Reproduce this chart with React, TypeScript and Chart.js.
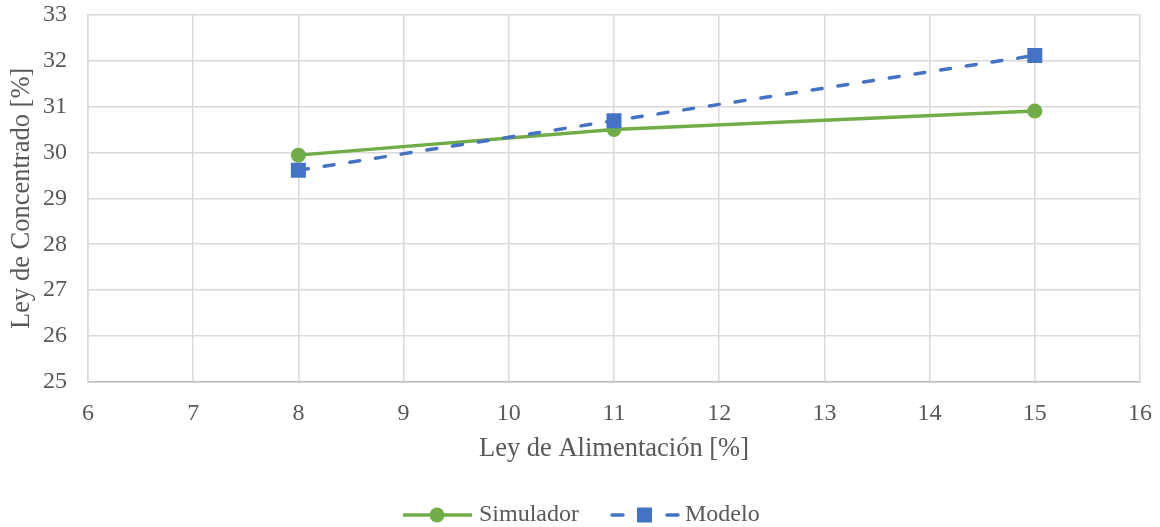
import React, { useEffect, useRef } from "react";
import { Chart, registerables } from "chart.js";

Chart.register(...registerables);

const xValues = [8, 11, 15];
const simulador = [29.94, 30.5, 30.9];
const modelo = [29.61, 30.69, 32.11];
const seriesNames = ["Simulador", "Modelo"];
const xTitle = "Ley de Alimentación [%]";
const yTitle = "Ley de Concentrado [%]";

const GREEN = "#70ad47";
const BLUE = "#4472c4";
const TEXT = "#595959";
const FONT = "'Liberation Serif', 'Times New Roman', serif";

const SHIFT = 16; // canvas is drawn 16px above the page top
const CW = 1169;
const CH = 527 + SHIFT;

const legendPlugin = {
  id: "customLegend",
  afterDraw(chart: any) {
    const ctx = chart.ctx;
    const y = 515 + SHIFT;
    ctx.save();
    ctx.font = `24px ${FONT}`;
    ctx.textBaseline = "middle";
    // Simulador
    ctx.strokeStyle = GREEN;
    ctx.lineWidth = 3.5;
    ctx.setLineDash([]);
    ctx.beginPath();
    ctx.moveTo(403, y);
    ctx.lineTo(472, y);
    ctx.stroke();
    ctx.fillStyle = GREEN;
    ctx.beginPath();
    ctx.arc(437, y, 7.5, 0, Math.PI * 2);
    ctx.fill();
    ctx.fillStyle = TEXT;
    ctx.fillText(seriesNames[0], 479, y);
    // Modelo
    ctx.strokeStyle = BLUE;
    ctx.lineCap = "round";
    ctx.beginPath();
    ctx.moveTo(612, y);
    ctx.lineTo(623, y);
    ctx.moveTo(667, y);
    ctx.lineTo(678, y);
    ctx.stroke();
    ctx.fillStyle = BLUE;
    ctx.fillRect(637, y - 7.5, 15, 15);
    ctx.fillStyle = TEXT;
    ctx.fillText(seriesNames[1], 685, y);
    ctx.restore();
  },
};

export default function App() {
  const ref = useRef<HTMLCanvasElement>(null);
  useEffect(() => {
    if (!ref.current) return;
    const chart = new Chart(ref.current, {
      type: "line",
      data: {
        datasets: [
          {
            label: seriesNames[0],
            data: xValues.map((x, i) => ({ x, y: simulador[i] })),
            borderColor: GREEN,
            backgroundColor: GREEN,
            borderWidth: 3.5,
            pointStyle: "circle",
            pointRadius: 7.5,
            pointBorderWidth: 0,
            order: 1,
          },
          {
            label: seriesNames[1],
            data: xValues.map((x, i) => ({ x, y: modelo[i] })),
            borderColor: BLUE,
            backgroundColor: BLUE,
            borderWidth: 3.5,
            borderDash: [10, 16],
            borderCapStyle: "round",
            pointStyle: "rect",
            pointRadius: 10.6,
            pointBorderWidth: 0,
            order: 0,
          },
        ],
      },
      options: {
        animation: false,
        responsive: false,
        maintainAspectRatio: false,
        layout: { padding: { left: 0, right: 0, top: 0, bottom: 62.4 } },
        plugins: { legend: { display: false }, tooltip: { enabled: false } },
        scales: {
          x: {
            type: "linear",
            min: 6,
            max: 16,
            ticks: { stepSize: 1, padding: 17, color: TEXT, font: { family: FONT, size: 24 } },
            grid: { color: "#d9d9d9", lineWidth: 1.5, drawTicks: false },
            border: { color: "#bfbfbf", width: 1.5 },
            title: {
              display: true,
              text: xTitle,
              color: TEXT,
              font: { family: FONT, size: 26.5 },
              padding: 0,
            },
            afterFit: (s: any) => {
              s.height = 82.6;
            },
          },
          y: {
            type: "linear",
            min: 25,
            max: 33,
            ticks: {
              stepSize: 1,
              padding: 21,
              color: TEXT,
              font: { family: FONT, size: 24, lineHeight: 0.8 },
            },
            grid: { color: "#d9d9d9", lineWidth: 1.5, drawTicks: false },
            border: { color: "#d9d9d9", width: 1.5 },
            title: {
              display: true,
              text: yTitle,
              color: TEXT,
              font: { family: FONT, size: 26.5 },
              padding: { top: 6.4, bottom: 0 },
            },
            afterFit: (s: any) => {
              s.width = 88;
            },
          },
        },
      },
      plugins: [legendPlugin],
    } as any);
    return () => chart.destroy();
  }, []);
  return (
    <div
      style={{
        position: "absolute",
        left: 0,
        top: 0,
        width: 1160,
        height: 527,
        overflow: "hidden",
        background: "#fff",
      }}
    >
      <canvas
        ref={ref}
        width={CW}
        height={CH}
        style={{ position: "absolute", left: 0, top: -SHIFT, width: CW, height: CH, display: "block" }}
      />
    </div>
  );
}
